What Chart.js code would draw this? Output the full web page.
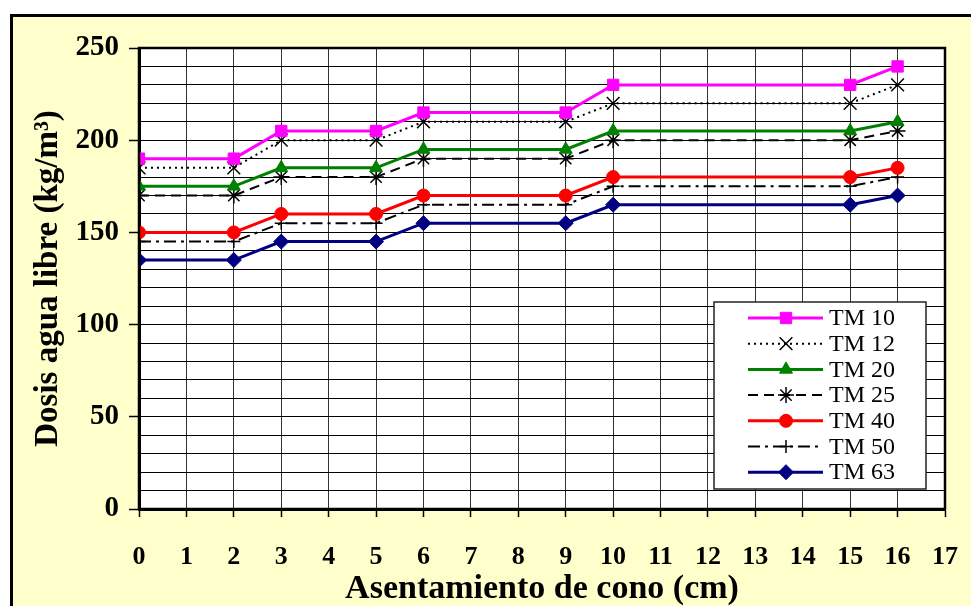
<!DOCTYPE html>
<html>
<head>
<meta charset="utf-8">
<script src="https://cdn.jsdelivr.net/npm/chart.js@4.4.0/dist/chart.umd.min.js"></script>
<style>
  html, body { margin: 0; padding: 0; background: #fff; }
  #wrap { width: 971px; height: 606px; }
</style>
</head>
<body>
<div id="wrap"><canvas id="grafico" width="971" height="606"></canvas></div>
<script>
// asentamiento de cono (cm)
const asentamiento = [0, 2, 3, 5, 6, 9, 10, 15, 16];
// dosis de agua libre (kg/m3) por tamano maximo
const tm10 = [190, 190, 205, 205, 215, 215, 230, 230, 240];
const tm12 = [185, 185, 200, 200, 210, 210, 220, 220, 230];
const tm20 = [175, 175, 185, 185, 195, 195, 205, 205, 210];
const tm25 = [170, 170, 180, 180, 190, 190, 200, 200, 205];
const tm40 = [150, 150, 160, 160, 170, 170, 180, 180, 185];
const tm50 = [145, 145, 155, 155, 165, 165, 175, 175, 180];
const tm63 = [135, 135, 145, 145, 155, 155, 165, 165, 170];

const etiquetas = ['TM 10', 'TM 12', 'TM 20', 'TM 25', 'TM 40', 'TM 50', 'TM 63'];

function puntos(serie) {
    return serie.map((v, i) => ({x: asentamiento[i], y: v}));
}

function serie(label, valores, color, dash, width, estilo, radio, relleno) {
    return {
        label: label,
        data: puntos(valores),
        borderColor: color,
        borderWidth: width,
        borderDash: dash,
        pointStyle: estilo,
        pointRadius: radio,
        pointHoverRadius: radio,
        pointBackgroundColor: relleno,
        pointBorderColor: relleno === 'transparent' ? '#000' : relleno,
        pointBorderWidth: relleno === 'transparent' ? 1.5 : 1,
        tension: 0,
        fill: false
    };
}

const datasets = [
    serie(etiquetas[0], tm10, '#ff00ff', [], 3, 'rect', 8, '#ff00ff'),
    serie(etiquetas[1], tm12, '#000000', [2, 4], 2, 'crossRot', 9, 'transparent'),
    serie(etiquetas[2], tm20, '#008000', [], 3, 'triangle', 7.5, '#008000'),
    serie(etiquetas[3], tm25, '#000000', [10, 6], 2, 'star', 8, 'transparent'),
    serie(etiquetas[4], tm40, '#ff0000', [], 3, 'circle', 6.5, '#ff0000'),
    serie(etiquetas[5], tm50, '#000000', [12, 5, 3, 5], 2, 'cross', 6.5, 'transparent'),
    serie(etiquetas[6], tm63, '#000080', [], 3, 'rectRot', 7.5, '#000080')
];

// fondo amarillo con marco y area blanca
const fondo = {
    id: 'fondo',
    beforeDraw(chart) {
        const ctx = chart.ctx;
        const a = chart.chartArea;
        ctx.save();
        ctx.fillStyle = '#ffffff';
        ctx.fillRect(0, 0, chart.width, chart.height);
        ctx.fillStyle = '#ffffcc';
        ctx.fillRect(11, 15, chart.width, chart.height);
        ctx.strokeStyle = '#000';
        ctx.lineWidth = 3;
        ctx.strokeRect(11.5, 15.5, chart.width + 10, chart.height + 10);
        ctx.fillStyle = '#ffffff';
        ctx.fillRect(a.left, a.top, a.right - a.left, a.bottom - a.top);
        ctx.restore();
    },
    afterDraw(chart) {
        const ctx = chart.ctx;
        const a = chart.chartArea;
        ctx.save();
        ctx.strokeStyle = '#000';
        ctx.lineWidth = 2.5;
        ctx.strokeRect(a.left, a.top, a.right - a.left, a.bottom - a.top);
        ctx.restore();
    }
};

// leyenda dentro del grafico
const leyenda = {
    id: 'leyenda',
    afterDraw(chart) {
        const ctx = chart.ctx;
        const x0 = 714, y0 = 302, w = 212, h = 187;
        ctx.save();
        ctx.fillStyle = '#fff';
        ctx.fillRect(x0, y0, w, h);
        ctx.strokeStyle = '#222';
        ctx.lineWidth = 1.5;
        ctx.strokeRect(x0, y0, w, h);
        chart.data.datasets.forEach((ds, i) => {
            const y = 318 + i * 25.7;
            ctx.strokeStyle = ds.borderColor;
            ctx.lineWidth = ds.borderWidth;
            ctx.setLineDash(ds.borderDash);
            ctx.beginPath();
            ctx.moveTo(748, y);
            ctx.lineTo(823, y);
            ctx.stroke();
            ctx.setLineDash([]);
            ctx.fillStyle = ds.pointBackgroundColor;
            ctx.strokeStyle = ds.pointBorderColor;
            ctx.lineWidth = ds.pointBorderWidth;
            Chart.helpers.drawPoint(ctx, {pointStyle: ds.pointStyle, radius: ds.pointRadius, rotation: 0, borderWidth: ds.pointBorderWidth}, 786, y);
            ctx.fillStyle = '#000';
            ctx.font = '24px "Liberation Serif"';
            ctx.textBaseline = 'middle';
            ctx.textAlign = 'left';
            ctx.fillText(ds.label, 829, y + 1);
        });
        ctx.restore();
    }
};

const ctx = document.getElementById('grafico').getContext('2d');
new Chart(ctx, {
    type: 'line',
    data: {datasets: datasets},
    options: {
        responsive: false,
        animation: false,
        events: [],
        layout: {padding: {left: 12, top: 48, right: 26, bottom: 0}},
        plugins: {legend: {display: false}, tooltip: {enabled: false}},
        scales: {
            x: {
                type: 'linear',
                min: 0,
                max: 17,
                ticks: {
                    stepSize: 1,
                    autoSkip: false,
                    color: '#000',
                    padding: 25,
                    font: {family: 'Liberation Serif', size: 26, weight: 'bold'},
                    maxRotation: 0
                },
                grid: {color: '#333', lineWidth: 1, tickLength: 8, tickColor: '#000', tickWidth: 1.5},
                border: {color: '#000', width: 3},
                title: {
                    display: true,
                    text: 'Asentamiento de cono (cm)',
                    color: '#000',
                    font: {family: 'Liberation Serif', size: 34, weight: 'bold', lineHeight: 1.0},
                    padding: {top: 0, bottom: 0}
                },
                afterFit(scale) {
                    scale.height = 97;
                    scale.paddingLeft = 0;
                    scale.paddingRight = 0;
                }
            },
            y: {
                min: 0,
                max: 250,
                ticks: {
                    stepSize: 10,
                    autoSkip: false,
                    color: '#000',
                    padding: 10,
                    font: {family: 'Liberation Serif', size: 29, weight: 'bold'},
                    callback: v => (v % 50 === 0 ? v : '')
                },
                grid: {
                    color: '#000',
                    lineWidth: 1,
                    tickLength: 10,
                    tickWidth: 1.5,
                    tickColor: c => (c.tick && c.tick.value % 50 === 0 ? '#000' : 'rgba(0,0,0,0)')
                },
                border: {color: '#000', width: 3},
                title: {
                    display: true,
                    text: 'Dosis agua libre (kg/m³)',
                    color: '#000',
                    font: {family: 'Liberation Serif', size: 33, weight: 'bold', lineHeight: 1.0},
                    padding: {top: 20, bottom: 0}
                },
                afterFit(scale) { scale.width = 127; }
            }
        }
    },
    plugins: [fondo, leyenda]
});
</script>
</body>
</html>
